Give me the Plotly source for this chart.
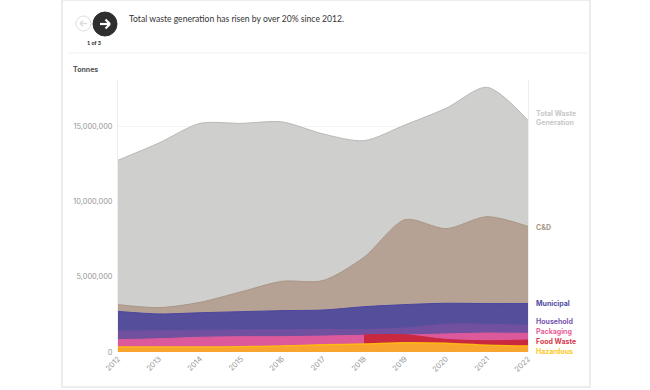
import plotly.graph_objects as go

years = [2012, 2013, 2014, 2015, 2016, 2017, 2018, 2019, 2020, 2021, 2022]
total = [12750000, 13900000, 15200000, 15200000, 15300000, 14500000, 14050000, 15100000, 16200000, 17600000, 15400000]
cd = [3150000, 2950000, 3300000, 4000000, 4700000, 4750000, 6300000, 8800000, 8200000, 9000000, 8350000]
municipal = [2700000, 2530000, 2610000, 2680000, 2750000, 2790000, 3010000, 3150000, 3240000, 3220000, 3220000]
household = [1400000, 1420000, 1450000, 1470000, 1480000, 1500000, 1500000, 1600000, 1850000, 1850000, 1780000]
packaging = [820000, 880000, 980000, 1020000, 1020000, 1060000, 1110000, 1130000, 1200000, 1260000, 1240000]
food_years = [2018, 2019, 2020, 2021, 2022]
food = [1140000, 1150000, 840000, 750000, 800000]
hazardous = [330000, 330000, 330000, 350000, 400000, 480000, 530000, 620000, 580000, 450000, 400000]
y_ticks = [0, 5000000, 10000000, 15000000]

W, H = 650, 390
L, R, T, B = 118, 528, 80, 352
PX_PER_UNIT = 75.2 / 5000000

series = [
    ("Total Waste<br>Generation", years, total, "#cfcfcd", "#b8b8b6", "#c8c8c6", 118),
    ("C&D", years, cd, "#b5a294", "#ab9686", "#ab9686", 227),
    ("Municipal", years, municipal, "#544e9b", "#4a44a0", "#4f4aa5", 303),
    ("Household", years, household, "#70509f", "#70509f", "#7a55b0", 321),
    ("Packaging", years, packaging, "#dc5a9c", "#dc5a9c", "#e8609a", 331),
    ("Food Waste", food_years, food, "#c9283f", "#c9283f", "#d8384a", 341),
    ("Hazardous", years, hazardous, "#f7a52e", "#fdb913", "#ffc81e", 351),
]

fig = go.Figure()
for name, x, y, fill, line, _, _ in series:
    fig.add_trace(go.Scatter(
        x=x, y=y, name=name.replace("<br>", " "), mode="lines", fill="tozeroy",
        fillcolor=fill, line=dict(color=line, width=1.5 if name == "Hazardous" else 1, shape="spline", smoothing=0.8),
        hoverinfo="skip", showlegend=False,
    ))

def px(v):
    return (v - L) / (R - L)

def py(v):
    return (B - v) / (B - T)

annotations = []
for name, _, _, _, _, color, yp in series:
    annotations.append(dict(
        xref="paper", yref="paper", x=px(534), y=py(yp), text=f"<b>{name}</b>", showarrow=False,
        xanchor="left", yanchor="middle", align="left",
        font=dict(family="Inter, sans-serif", size=7, color=color),
    ))
annotations += [
    dict(xref="paper", yref="paper", x=px(127), y=py(19), text="Total waste generation has risen by over 20% since 2012.",
         showarrow=False, xanchor="left", yanchor="middle", font=dict(family="Lato, sans-serif", size=8.6, color="#333333")),
    dict(xref="paper", yref="paper", x=px(94), y=py(43), text="<b>1 of 3</b>", showarrow=False,
         xanchor="center", yanchor="middle", font=dict(family="Lato, sans-serif", size=5.5, color="#222222")),
    dict(xref="paper", yref="paper", x=px(71), y=py(70), text="<b>Tonnes</b>", showarrow=False,
         xanchor="left", yanchor="middle", font=dict(family="Inter, sans-serif", size=7, color="#555555")),
]

def pshape(kind, x0, y0, x1, y1, **kw):
    return dict(type=kind, xref="paper", yref="paper", x0=px(x0), x1=px(x1), y0=py(y0), y1=py(y1), **kw)

shapes = [
    pshape("rect", 62, 0, 590, 387, line=dict(color="#ececec", width=2), fillcolor="rgba(0,0,0,0)", layer="below"),
    pshape("line", 68, 53, 588, 53, line=dict(color="#f0f0f0", width=1)),
    pshape("circle", 76, 16, 91, 31, line=dict(color="#dddddd", width=1), fillcolor="#ffffff"),
    pshape("line", 87, 23.5, 80, 23.5, line=dict(color="#dddddd", width=1.5)),
    pshape("line", 83, 20.5, 80, 23.5, line=dict(color="#dddddd", width=1.5)),
    pshape("line", 83, 26.5, 80, 23.5, line=dict(color="#dddddd", width=1.5)),
    pshape("circle", 93, 12, 117, 36, line=dict(color="#2f2f2f", width=1), fillcolor="#2f2f2f"),
    pshape("line", 100, 24, 110, 24, line=dict(color="#ffffff", width=2.2)),
    pshape("line", 105.5, 19.5, 110, 24, line=dict(color="#ffffff", width=2.2)),
    pshape("line", 105.5, 28.5, 110, 24, line=dict(color="#ffffff", width=2.2)),
    pshape("line", 528.5, 80, 528.5, 352, line=dict(color="#eeeeee", width=1)),
]

fig.update_layout(
    width=W, height=H, autosize=False,
    margin=dict(l=L, r=W - R, t=T, b=H - B, pad=0),
    paper_bgcolor="#ffffff", plot_bgcolor="#ffffff",
    annotations=annotations, shapes=shapes,
    xaxis=dict(
        range=[2012, 2022], tickmode="array", tickvals=years, ticktext=[str(v) for v in years],
        tickangle=-45, tickfont=dict(family="Inter, sans-serif", size=7.5, color="#969696"),
        showgrid=False, zeroline=False, showline=False, ticks="", ticklen=0,
    ),
    yaxis=dict(
        range=[0, (B - T) / PX_PER_UNIT], tickmode="array", tickvals=y_ticks,
        ticktext=[f"{v:,}" for v in y_ticks], ticklabelstandoff=3,
        tickfont=dict(family="Inter, sans-serif", size=7.4, color="#969696"),
        showgrid=True, gridcolor="#f3f3f3", gridwidth=1, zeroline=False,
        showline=True, linecolor="#eeeeee", linewidth=1, ticks="", ticklen=0,
    ),
)
fig.write_html("out.html", config={"displayModeBar": False}, post_script="document.body.style.margin='0';")
